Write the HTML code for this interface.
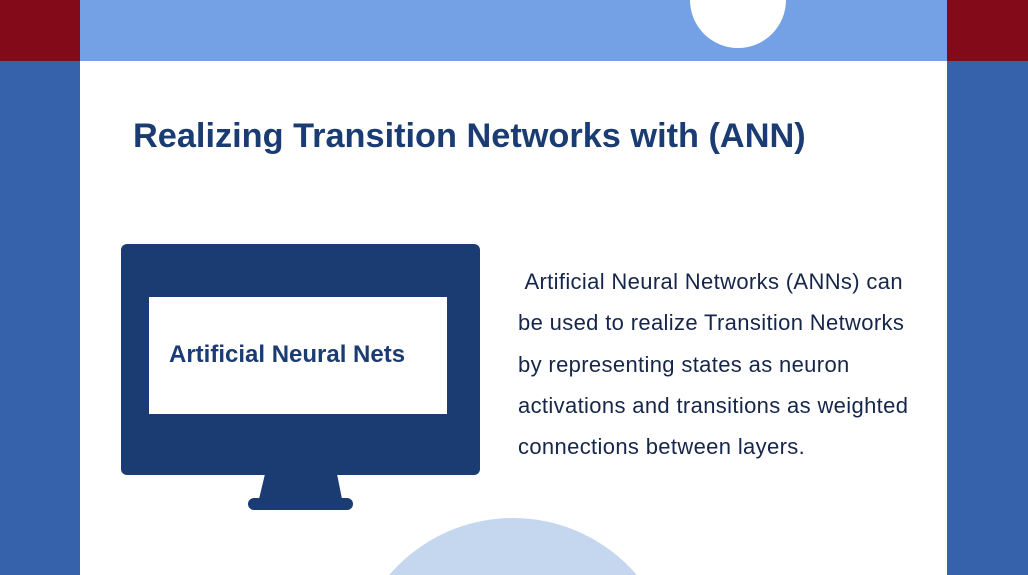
<!DOCTYPE html>
<html><head><meta charset="utf-8"><style>
html,body{margin:0;width:1028px;height:575px;overflow:hidden}
body{position:relative;background:#fff;font-family:"Liberation Sans",sans-serif}
div{position:absolute}
</style></head><body>
<div style="left:0;top:0;width:80px;height:61px;background:#830a19"></div>
<div style="left:947px;top:0;width:81px;height:61px;background:#830a19"></div>
<div style="left:0;top:61px;width:80px;height:514px;background:#3562aa"></div>
<div style="left:947px;top:61px;width:81px;height:514px;background:#3562aa"></div>
<div style="left:80px;top:0;width:867px;height:61px;background:#74a0e6;overflow:hidden">
 <div style="left:610px;top:-48px;width:96px;height:96px;border-radius:50%;background:#fff"></div>
</div>
<div style="left:80px;top:61px;width:867px;height:514px;background:#fff;overflow:hidden">
 <div style="left:270px;top:457px;width:326px;height:326px;border-radius:50%;background:#c5d6ef"></div>
</div>
<div style="left:133px;top:117px;font-size:34.3px;font-weight:bold;color:#1a3c72;white-space:nowrap">Realizing Transition Networks with (ANN)</div>
<div style="left:121px;top:244px;width:359px;height:231px;background:#1a3c72;border-radius:6px"></div>
<svg style="position:absolute;left:0;top:0" width="1028" height="575"><polygon points="265,474 337,474 342,499 259,499" fill="#1a3c72"/><rect x="248" y="498" width="105" height="12" rx="6" fill="#1a3c72"/></svg>
<div style="left:149px;top:297px;width:298px;height:117px;background:#fff"></div>
<div style="left:169px;top:341px;font-size:24px;font-weight:bold;color:#1a3c72;white-space:nowrap">Artificial Neural Nets</div>
<div style="left:518px;top:261px;font-size:22px;letter-spacing:0.35px;line-height:41.3px;color:#16264a;white-space:nowrap">&nbsp;Artificial Neural Networks (ANNs) can<br>be used to realize Transition Networks<br>by representing states as neuron<br>activations and transitions as weighted<br>connections between layers.</div>
</body></html>
